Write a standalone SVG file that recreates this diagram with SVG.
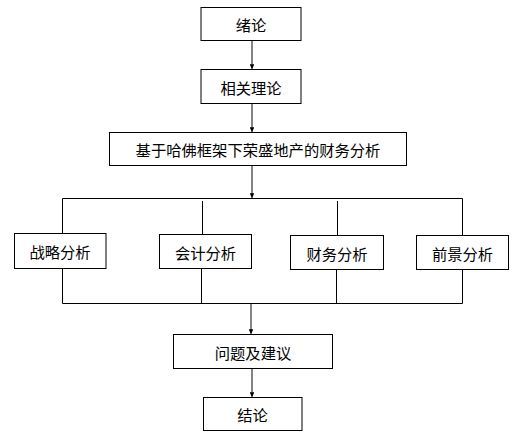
<svg xmlns="http://www.w3.org/2000/svg" width="529" height="436" viewBox="0 0 529 436">
<defs>
<style>
.box{fill:#fff;stroke:#000;stroke-width:1}
.t{font-family:"Noto Sans CJK SC","Liberation Sans",sans-serif;font-size:15.3px;fill:#000;text-anchor:middle;dominant-baseline:central}
.ln{fill:none;stroke:#000;stroke-width:1}
.ar{fill:none;stroke:#666;stroke-width:1.6}
</style>
<marker id="ah" viewBox="0 0 6 6" refX="6" refY="3" markerWidth="3" markerHeight="3" orient="auto" markerUnits="strokeWidth">
<path d="M0,0 L6,3 L0,6 z" fill="#000"/>
</marker>
</defs>
<rect width="529" height="436" fill="#fff"/>
<g id="connectors">
<line class="ar" x1="252" y1="40.5" x2="252" y2="69" marker-end="url(#ah)"/>
<line class="ar" x1="252" y1="103.5" x2="252" y2="132" marker-end="url(#ah)"/>
<line class="ar" x1="252" y1="165.5" x2="252" y2="198" marker-end="url(#ah)"/>
<path class="ln" d="M62.5,233 V198.5 H462.5 V235"/>
<line class="ln" x1="202.5" y1="201" x2="202.5" y2="234.5"/>
<line class="ln" x1="337.5" y1="201" x2="337.5" y2="235"/>
<path class="ln" d="M62.5,268.5 V303.5 H462.5 V269.5"/>
<line class="ln" x1="201.5" y1="268.5" x2="201.5" y2="303.5"/>
<line class="ln" x1="336.5" y1="269.5" x2="336.5" y2="303.5"/>
<line class="ar" x1="251" y1="304" x2="251" y2="334" marker-end="url(#ah)"/>
<line class="ar" x1="252" y1="368.5" x2="252" y2="397" marker-end="url(#ah)"/>
</g>
<g id="n1"><rect class="box" x="201" y="7.5" width="100" height="33"/><text class="t" x="251" y="24">绪论</text></g>
<g id="n2"><rect class="box" x="201" y="69.5" width="100" height="34"/><text class="t" x="251" y="86.5">相关理论</text></g>
<g id="n3"><rect class="box" x="109.5" y="132.5" width="297" height="33"/><text class="t" x="258" y="149">基于哈佛框架下荣盛地产的财务分析</text></g>
<g id="n4"><rect class="box" x="14.5" y="233.5" width="91.5" height="35"/><text class="t" x="60" y="251">战略分析</text></g>
<g id="n5"><rect class="box" x="159.5" y="234.5" width="92" height="34"/><text class="t" x="205.5" y="251.5">会计分析</text></g>
<g id="n6"><rect class="box" x="290.5" y="235.5" width="93" height="34"/><text class="t" x="337" y="252.5">财务分析</text></g>
<g id="n7"><rect class="box" x="416.5" y="235.5" width="92" height="34"/><text class="t" x="462.5" y="252.5">前景分析</text></g>
<g id="n8"><rect class="box" x="173.5" y="334.5" width="159" height="34"/><text class="t" x="253" y="351.5">问题及建议</text></g>
<g id="n9"><rect class="box" x="203.5" y="397.5" width="98.5" height="33"/><text class="t" x="252.5" y="414">结论</text></g>
</svg>
